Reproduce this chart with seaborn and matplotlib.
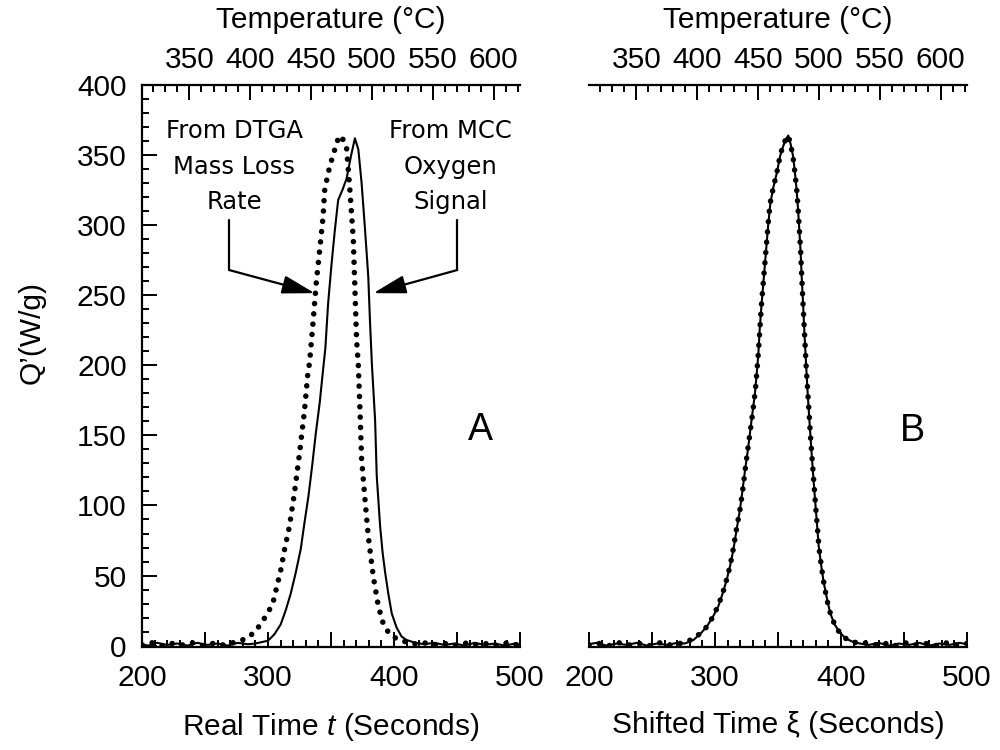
import matplotlib
matplotlib.use("Agg")
import matplotlib.pyplot as plt
from matplotlib.ticker import MultipleLocator, FuncFormatter, FixedLocator
import pandas as pd
import seaborn as sns

# ---------------- data ----------------
# Panel A: MCC oxygen-signal curve (solid), real time t (s) vs Q' (W/g)
mcc_t = [200, 205, 212, 220, 228, 236, 244, 252, 260, 268, 276, 284, 290, 295, 300, 305,
         310, 314, 318, 322, 326, 329, 332, 335, 338, 341, 343.5, 345.5, 347.7, 350.4, 353,
         355.7, 359, 362.3, 366, 369, 371.7, 374.3, 377, 379.6, 381, 382.5, 385, 386.3, 389,
         391, 393, 395.5, 398.2, 402, 406, 410, 417, 424, 432, 440, 448, 456, 464, 472, 480,
         488, 496, 500]
mcc_q = [1, 0, 2, 0.5, 1.5, 0, 2, 0.5, 1.5, 0, 2, 1, 1.5, 2.5, 3.5, 8,
         15, 25, 37, 52, 69, 88, 106, 128, 152, 173, 195, 212, 244, 272, 296,
         318, 325, 333, 350, 362, 354, 330, 297, 263, 230, 200, 161, 121, 85,
         66, 52, 37, 23, 13, 6.5, 4, 2, 1, 2, 0.5, 1.5, 0, 2, 0.5, 1.5,
         0, 1.5, 0.5]

# Panel A: DTGA mass-loss-rate curve (dotted)
dtga_t = [200, 208, 216, 224, 232, 240, 248, 256, 264, 270, 276, 281, 285, 290, 294.5, 299,
          303.8, 307, 310.4, 313, 317, 321, 325, 329, 331.7, 333, 335.7, 338.3, 341, 343.7,
          345, 347, 349, 351, 353, 355, 357, 359, 362.3, 365, 367.7, 369, 370.3, 371.7, 373,
          374.3, 377, 379.6, 383.6, 387.6, 391, 394, 398, 403.6, 410, 418, 426, 434, 442, 450,
          458, 466, 474, 482, 490, 498, 500]
dtga_q = [0.5, 2, 0, 1.5, 0.5, 2, 0, 1.5, 0.5, 1.5, 3, 4.5, 6.6, 10, 16, 22,
          30, 42, 55, 68, 85, 109, 137, 168, 195, 202, 230, 259, 282, 306,
          325, 334, 342, 348, 354, 360, 364, 362, 356, 325, 290, 254, 218, 200, 168,
          133, 104, 78, 49, 28, 17, 11.4, 7, 4.3, 2.5, 1, 2, 0.5, 1.5, 0,
          2, 0.5, 1.5, 0, 2, 0.5, 1]

# Panel B: MCC curve on shifted time xi (solid)
mccB_t = [200, 206, 214, 222, 230, 238, 246, 254, 262, 270, 276, 282.8, 288, 293.4, 298, 302.6,
          306, 309.3, 312, 314.5, 317, 319.8, 322, 323.8, 326, 327.8, 330, 331.7, 333, 334.4,
          335.5, 337, 338.5, 339.7, 341, 342.3, 344, 346.3, 349, 351.6, 354, 356, 358.2, 360,
          362, 363.5, 364.8, 366, 366.9, 368, 368.8, 369.8, 370.6, 371.5, 372.4, 373.3, 374.4,
          375.7, 377, 378.3, 379.6, 381, 382.3, 384.3, 386.3, 389, 391.5, 395, 399.4, 404,
          408.6, 415, 422, 430, 438, 446, 454, 462, 470, 478, 486, 494, 500]
mccB_q = [1, 2, 0, 1.5, 0.5, 2, 0, 1.5, 0.5, 2, 1.5, 4, 8, 13.5, 20, 28,
          37, 47, 57, 68, 82, 97, 112, 125, 139, 152, 168, 180, 193, 208,
          226, 244, 260, 273, 287, 301, 316, 327, 337, 349, 356, 361, 364, 358,
          349, 337, 325, 310, 297, 280, 263, 246, 230, 214, 199, 184, 168,
          150, 133, 117, 102, 86, 71, 57, 45, 33, 23, 15, 9, 5,
          3, 1.5, 0.5, 2, 0, 1.5, 0.5, 2, 0, 1.5, 0.5, 2, 1]

# Panel B: DTGA curve on shifted time xi (dotted)
dtgaB_t = [200, 208, 216, 224, 232, 240, 248, 256, 264, 272, 278, 283, 288, 293, 298, 302.5,
           306, 309.5, 312, 314.5, 317, 320, 322, 324, 326, 328, 330, 332, 333.3, 334.5, 335.7,
           337, 338.3, 339.7, 341, 342.3, 343.5, 345, 346.5, 348.5, 350, 351.6, 353.5, 355.5,
           357.5, 359.5, 361, 362.5, 363.8, 365, 366.2, 367, 368, 368.8, 369.7, 370.7, 371.6,
           372.4, 373.5, 374.6, 375.8, 377.2, 378.5, 379.8, 381.2, 382.5, 384.5, 386.5, 389,
           391.8, 395.5, 399.5, 404, 409, 414, 420, 428, 436, 444, 452, 460, 468, 476, 484,
           492, 500]
dtgaB_q = [0.5, 1.5, 0, 2, 0.5, 1.5, 0, 2, 0.5, 1.5, 3, 5, 8.5, 13, 20, 28.5,
           37, 48, 57, 69, 83, 98, 111, 126, 140, 153, 167, 182, 196, 210, 227,
           245, 259, 274, 288, 302, 314, 322, 327, 336, 341, 350, 355, 360,
           364, 360, 353, 345, 334, 324, 308, 296, 281, 264, 247, 229, 213,
           198, 183, 167, 149, 132, 116, 100, 85, 70, 56, 44, 32,
           22, 14, 8.5, 5, 3, 1.5, 2, 0.5, 1.5, 0, 2, 0.5, 1.5, 0, 2,
           0.5, 1.5]

time_ticks = [200, 250, 300, 350, 400, 450, 500]
time_labels = ["200", "", "300", "", "400", "", "500"]
y_ticks_major = [0, 50, 100, 150, 200, 250, 300, 350, 400]
temp_ticks = [350, 400, 450, 500, 550, 600]

# ---------------- style ----------------
sns.set_theme(style="ticks")
plt.rcParams["font.family"] = ["Liberation Sans", "DejaVu Sans"]
plt.rcParams["mathtext.fontset"] = "custom"
plt.rcParams["mathtext.rm"] = "Liberation Sans"
plt.rcParams["mathtext.it"] = "Liberation Sans:italic"
for k in ["axes.edgecolor", "text.color", "xtick.color", "ytick.color", "axes.labelcolor"]:
    plt.rcParams[k] = "black"

FS = 21.5
fig = plt.figure(figsize=(10, 7.5), dpi=100)
axA = fig.add_axes([0.142, 0.1373, 0.378, 0.7493])
axB = fig.add_axes([0.589, 0.1373, 0.378, 0.7493])

dfA1 = pd.DataFrame({"t": mcc_t, "q": mcc_q})
dfA2 = pd.DataFrame({"t": dtga_t, "q": dtga_q})
dfB1 = pd.DataFrame({"t": mccB_t, "q": mccB_q})
dfB2 = pd.DataFrame({"t": dtgaB_t, "q": dtgaB_q})

dot_style = dict(color="black", lw=4.0, linestyle=(0, (0.01, 1.85)),
                 dash_capstyle="round", estimator=None, sort=False)
solid_style = dict(color="black", lw=1.5, estimator=None, sort=False)


def t2T(t):
    return 311.2 + 1.035 * (t - 200)


def T2t(T):
    return 200 + (T - 311.2) / 1.035


for ax, d1, d2 in [(axA, dfA1, dfA2), (axB, dfB1, dfB2)]:
    sns.lineplot(data=d1, x="t", y="q", ax=ax, **solid_style)
    sns.lineplot(data=d2, x="t", y="q", ax=ax, **dot_style)
    ax.set_xlim(200, 500)
    ax.set_ylim(-1, 400)
    ax.spines["right"].set_visible(False)
    ax.spines["top"].set_visible(False)
    for s in ["left", "bottom"]:
        ax.spines[s].set_linewidth(1.6)
    ax.set_xticks(time_ticks)
    ax.set_xticklabels(time_labels)
    ax.xaxis.set_minor_locator(MultipleLocator(10))
    ax.set_yticks(y_ticks_major)
    ax.yaxis.set_minor_locator(MultipleLocator(10))
    ax.tick_params(which="major", direction="in", length=11, width=1.4, labelsize=FS)
    ax.tick_params(which="minor", direction="in", length=5, width=1.4)
    ax.tick_params(axis="x", which="major", pad=12)
    ax.tick_params(axis="y", which="major", pad=11)
    ax.set_ylabel("")

    sec = ax.secondary_xaxis("top", functions=(t2T, T2t))
    sec.xaxis.set_major_locator(FixedLocator(temp_ticks))
    sec.xaxis.set_minor_locator(MultipleLocator(10))
    sec.tick_params(which="major", direction="in", length=11, width=1.4, labelsize=FS, pad=8)
    sec.tick_params(which="minor", direction="in", length=5, width=1.4)
    sec.spines["top"].set_linewidth(1.6)
    sec.set_xlabel("Temperature (°C)", fontsize=FS, labelpad=13)

axB.spines["left"].set_visible(False)
axB.tick_params(axis="y", which="both", left=False, labelleft=False)

axA.set_xlabel("Real Time $t$ (Seconds)", fontsize=FS, labelpad=14)
axB.set_xlabel("Shifted Time ξ (Seconds)", fontsize=FS, labelpad=14)
axA.set_ylabel("Q\u2019(W/g)", fontsize=FS)
axA.yaxis.set_label_coords(-0.254, 0.559)

# annotations
ann_font = dict(family="DejaVu Sans", fontsize=17.5, ha="center", va="center", linespacing=1.6)
axA.text(273.4, 341.6, "From DTGA\nMass Loss\nRate", **ann_font)
axA.text(445, 341.6, "From MCC\nOxygen\nSignal", **ann_font)

arrow_kw = dict(arrowstyle="-|>,head_length=1.0,head_width=0.28", color="black",
                lw=1.6, shrinkA=0, shrinkB=0, mutation_scale=20)
axA.plot([269.2, 269.2], [303.7, 268], color="black", lw=1.6)
axA.annotate("", xy=(337.1, 251.5), xytext=(269.2, 268), arrowprops=arrow_kw)
axA.plot([450.2, 450.2], [303.7, 268], color="black", lw=1.6)
axA.annotate("", xy=(383.6, 251.5), xytext=(450.2, 268), arrowprops=arrow_kw)

axA.text(468.7, 154, "A", fontsize=27, ha="center", va="center")
axB.text(456.3, 153, "B", fontsize=27, ha="center", va="center")

fig.savefig("out.png", dpi=100)
